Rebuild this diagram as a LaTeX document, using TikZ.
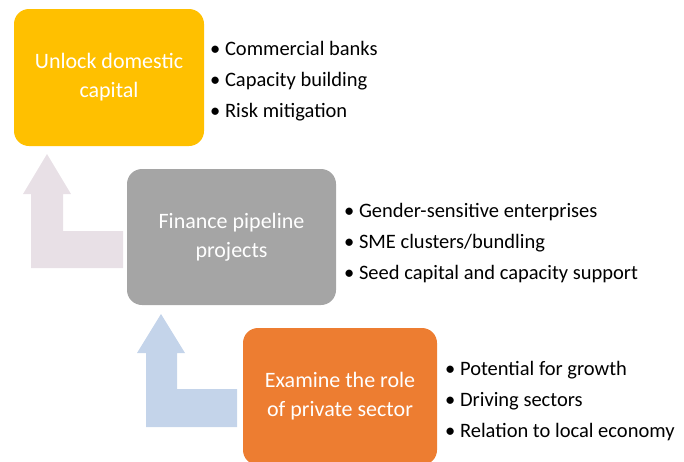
\documentclass[tikz,border=0pt]{standalone}
\usepackage{fontspec}
\setmainfont{Carlito}
\definecolor{boxyellow}{RGB}{255,192,0}
\definecolor{boxgray}{RGB}{165,165,165}
\definecolor{boxorange}{RGB}{237,125,49}
\definecolor{arrowpink}{RGB}{232,224,230}
\definecolor{arrowblue}{RGB}{196,212,234}
\tikzset{
  stepbox/.style={rounded corners=15pt, text=white, align=center,
    font=\fontsize{22}{29}\selectfont, inner sep=0pt},
  bullets/.style={anchor=west, align=left, inner sep=0pt,
    font=\fontsize{20.5}{31}\selectfont}
}
\begin{document}
\begin{tikzpicture}[x=1pt,y=-1pt]
      \useasboundingbox (0,0) rectangle (684,461);
      \begin{scope}
      \clip (0,0) rectangle (684,461);
      \fill[arrowpink] (47,154) -- (71,194) -- (63,194) -- (63,231) -- (123,231) -- (123,268)
        -- (31,268) -- (31,194) -- (23,194) -- cycle;
      \fill[arrowblue] (161,314) -- (185,353) -- (177,353) -- (177,389) -- (237,389) -- (237,427)
        -- (146,427) -- (146,353) -- (137,353) -- cycle;
      \node[stepbox, fill=boxyellow, minimum width=190pt, minimum height=137pt] (unlock) at (109,77.5)
        {Unlock domestic\\capital};
      \node[stepbox, fill=boxgray, minimum width=209pt, minimum height=136pt] (finance) at (231.5,237)
        {Finance pipeline\\projects};
      \node[stepbox, fill=boxorange, minimum width=194pt, minimum height=137pt] (examine) at (340,396.5)
        {Examine the role\\of private sector};
      \end{scope}
      \node[bullets] (unlocklist) at (210,81)
        {\textbullet\ Commercial banks\\\textbullet\ Capacity building\\\textbullet\ Risk mitigation};
      \node[bullets] (financelist) at (344,243)
        {\textbullet\ Gender-sensitive enterprises\\\textbullet\ SME clusters/bundling\\\textbullet\ Seed capital and capacity support};
      \node[bullets] (examinelist) at (445,401)
        {\textbullet\ Potential for growth\\\textbullet\ Driving sectors\\\textbullet\ Relation to local economy};
\end{tikzpicture}
\end{document}
